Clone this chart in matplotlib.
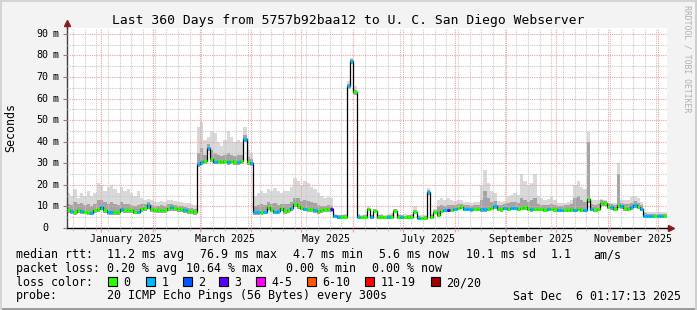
import datetime as dt
import numpy as np
import matplotlib
matplotlib.use('Agg')
import matplotlib.pyplot as plt
import matplotlib.dates as mdates
import matplotlib.transforms as mtransforms
from matplotlib.patches import Rectangle
from matplotlib.ticker import MultipleLocator, NullFormatter

W, H = 697, 310
plt.rcParams['font.family'] = 'DejaVu Sans Mono'

# --- data: one sample every 2 days, Dec 11 2024 -> Dec 6 2025 ---
start = dt.datetime(2024, 12, 11, 1, 17, 13)
end = dt.datetime(2025, 12, 6, 1, 17, 13)
step_days = 2

# median rtt (ms)
med = [8.5, 8.0, 7.5, 8.3, 8.0, 7.6, 7.3, 7.1, 8.5, 8.8,
       9.8, 8.5, 7.5, 7.2, 7.4, 7.6, 8.7, 8.5, 8.3, 8.2,
       7.6, 7.6, 8.8, 9.3, 10.6, 8.8, 8.5, 8.3, 8.3, 8.4,
       9.5, 9.6, 9.2, 8.8, 8.7, 8.5, 8.1, 8.0, 7.6, 29.5,
       30.5, 31.0, 37.0, 32.0, 30.8, 31.0, 30.8, 31.0, 30.6, 31.0,
       30.6, 30.5, 31.0, 41.5, 30.5, 30.0, 7.5, 7.3, 7.4, 7.6,
       9.6, 8.5, 7.6, 7.8, 9.2, 8.0, 8.3, 9.5, 11.0, 10.2,
       9.5, 9.0, 8.8, 8.6, 8.3, 8.0, 8.2, 8.6, 8.8, 8.7,
       5.5, 5.0, 5.0, 5.3, 66.0, 77.5, 63.0, 5.2, 4.9, 5.0,
       8.7, 5.0, 8.0, 5.0, 5.0, 4.9, 5.0, 5.0, 8.0, 5.0,
       5.0, 4.9, 5.0, 5.0, 7.5, 4.7, 4.5, 4.7, 16.5, 5.0,
       7.5, 6.0, 8.0, 8.3, 8.3, 8.5, 8.8, 9.3, 9.8, 8.8,
       8.8, 8.6, 8.8, 8.8, 8.7, 8.6, 8.8, 9.5, 10.2, 8.8,
       8.7, 9.3, 9.0, 9.3, 9.3, 9.0, 9.3, 9.7, 8.8, 8.7,
       8.8, 9.0, 8.8, 8.5, 8.8, 9.0, 8.6, 8.3, 8.3, 8.5,
       8.3, 8.6, 8.5, 8.8, 8.3, 8.5, 13.4, 8.8, 8.5, 9.0,
       11.7, 11.5, 9.8, 9.6, 9.0, 10.7, 10.0, 9.3, 9.0, 9.6,
       10.7, 9.8, 9.0, 5.7, 5.6, 5.6, 5.5, 5.6, 5.6, 5.6]

# top of the light smoke (ms)
hi = [16, 15, 18, 14, 16, 15, 17, 15, 16, 21,
      20, 17, 19, 20, 18, 16, 19, 17, 18, 16,
      15, 17, 14, 13, 13.5, 13, 12, 12, 12.5, 12,
      13, 13, 12.5, 12, 12, 11.5, 11.5, 11, 10.5, 47,
      49, 41, 42, 45, 44, 40, 38, 41, 45, 42,
      40, 41, 40, 47, 36, 35, 15, 16, 17, 16,
      18, 17, 18.5, 17, 16, 17, 17, 19, 23, 22,
      20, 22, 21, 19, 18, 16, 15, 14, 14.5, 14,
      6.5, 6.0, 6.0, 6.5, 68, 79, 66, 6.5, 6.0, 6.2,
      10, 6.2, 9.0, 6.2, 6.5, 6.2, 6.5, 7.0, 9.0, 6.5,
      6.2, 6.5, 6.2, 6.5, 10, 6.0, 5.8, 6.0, 18.5, 6.5,
      9.0, 13, 14, 13, 14, 13, 12.5, 13, 13, 12,
      12, 11.5, 12, 12, 20, 27, 21, 17, 16, 12.5,
      12, 12.5, 15, 15.5, 16, 15.5, 25, 22, 20, 21,
      25, 15, 14, 13, 13.5, 14.5, 13, 11.5, 11.5, 11.5,
      12, 13, 20, 22, 19, 18, 44.6, 13, 13, 13,
      13.5, 13, 11.5, 11.5, 11.5, 30, 13, 13, 13, 14.5,
      15, 14, 12, 7.5, 7.3, 7.3, 7.2, 7.3, 7.3, 7.3]

# top of the dark smoke (ms)
mid = [11, 10.5, 12, 11, 11.5, 10.5, 11, 10, 11, 13,
       13, 12, 11, 12, 11, 10.5, 12, 11, 11, 10.5,
       10, 10.5, 11, 11, 12, 10.5, 10, 10, 10.5, 10,
       11, 11, 10.5, 10, 10, 9.8, 9.5, 9.3, 9.0, 35,
       37, 34, 39, 36, 35, 34, 33.5, 34, 35, 34,
       33.5, 34, 34, 43, 33, 32, 10, 10.5, 11, 10.5,
       12, 11, 11.5, 10.5, 11, 11, 11, 12, 14, 14,
       12.5, 13, 12.5, 12, 11.5, 10.5, 10, 10, 10.5, 10,
       6.0, 5.8, 5.8, 6.0, 67, 78.5, 64, 6.0, 5.7, 5.8,
       9.5, 5.8, 8.7, 5.8, 5.8, 5.7, 5.8, 5.9, 8.7, 5.8,
       5.8, 5.7, 5.8, 5.8, 8.5, 5.5, 5.3, 5.5, 17.5, 5.8,
       8.3, 10, 10.5, 10, 10.5, 10.5, 10.5, 11, 11, 10.5,
       10.5, 10.3, 10.5, 10.5, 13, 17, 14, 12, 12.5, 10.5,
       10.5, 11, 11.5, 12, 12, 11.5, 14, 13, 12, 13,
       14, 11, 10.5, 10.5, 10.5, 11, 10.5, 10, 10, 10.5,
       10.5, 11, 14, 15, 13, 12, 40, 11, 10.5, 11,
       13, 12.5, 11, 11, 10.5, 25, 11.5, 11, 11, 11.5,
       12.5, 11.5, 10.5, 6.8, 6.6, 6.6, 6.5, 6.6, 6.6, 6.6]

# bottom of the smoke (ms)
lo = [7.0, 6.6, 6.2, 6.8, 6.6, 6.3, 6.0, 5.8, 7.0, 7.3,
      8.2, 7.0, 6.2, 5.9, 6.0, 6.2, 7.2, 7.0, 6.8, 6.8,
      6.3, 6.3, 7.3, 7.8, 9.0, 7.4, 7.1, 6.9, 6.9, 7.0,
      8.0, 8.1, 7.7, 7.4, 7.3, 7.1, 6.7, 6.6, 6.2, 28.5,
      29.3, 29.8, 35.5, 30.8, 29.6, 29.8, 29.6, 29.8, 29.4, 29.8,
      29.4, 29.3, 29.8, 40.0, 29.2, 28.8, 6.2, 6.0, 6.1, 6.3,
      8.2, 7.2, 6.3, 6.5, 7.8, 6.7, 7.0, 8.1, 9.6, 8.9,
      8.2, 7.7, 7.5, 7.3, 7.0, 6.7, 6.9, 7.3, 7.5, 7.4,
      4.7, 4.3, 4.3, 4.6, 64.5, 76.0, 61.5, 4.5, 4.2, 4.3,
      7.8, 4.3, 7.2, 4.3, 4.3, 4.2, 4.3, 4.3, 7.2, 4.3,
      4.3, 4.2, 4.3, 4.3, 6.7, 4.0, 3.8, 4.0, 15.5, 4.3,
      6.7, 5.0, 7.0, 7.3, 7.3, 7.5, 7.8, 8.2, 8.6, 7.7,
      7.7, 7.5, 7.7, 7.7, 7.6, 7.5, 7.7, 8.4, 9.0, 7.7,
      7.6, 8.2, 7.9, 8.2, 8.2, 7.9, 8.2, 8.5, 7.7, 7.6,
      7.7, 7.9, 7.7, 7.4, 7.7, 7.9, 7.5, 7.2, 7.2, 7.4,
      7.2, 7.5, 7.4, 7.7, 7.2, 7.4, 11.5, 7.7, 7.4, 7.9,
      10.3, 10.2, 8.6, 8.4, 7.9, 9.5, 8.8, 8.1, 7.9, 8.4,
      9.5, 8.6, 7.9, 4.9, 4.8, 4.8, 4.7, 4.8, 4.8, 4.8]

# packet loss class per sample (index into loss_labels)
loss = [0, 1, 0, 0, 1, 0, 0, 1, 0, 0,
        1, 0, 1, 1, 0, 0, 1, 0, 0, 0,
        0, 1, 0, 0, 1, 0, 0, 0, 0, 0,
        0, 1, 0, 0, 0, 1, 0, 0, 0, 1,
        1, 0, 1, 0, 1, 0, 0, 0, 1, 0,
        0, 1, 0, 1, 0, 1, 1, 1, 0, 1,
        0, 0, 1, 1, 0, 0, 0, 1, 0, 0,
        0, 1, 0, 0, 1, 0, 0, 0, 0, 3,
        1, 1, 0, 0, 1, 1, 0, 1, 0, 0,
        0, 1, 0, 0, 0, 0, 1, 0, 0, 0,
        1, 0, 0, 0, 0, 1, 0, 0, 1, 0,
        0, 0, 0, 1, 3, 0, 1, 0, 0, 1,
        1, 1, 0, 0, 1, 1, 0, 0, 1, 0,
        0, 1, 0, 1, 1, 0, 0, 0, 0, 1,
        0, 0, 0, 0, 1, 0, 0, 1, 1, 0,
        0, 0, 1, 0, 0, 1, 0, 1, 0, 0,
        0, 0, 0, 1, 0, 0, 1, 0, 0, 1,
        1, 0, 1, 1, 1, 1, 0, 1, 1, 0]

loss_labels = ['0', '1', '2', '3', '4-5', '6-10', '11-19', '20/20']
loss_colors = ['#26ff00', '#00b8ff', '#0059ff', '#5e00ff',
               '#ff00ff', '#ff5500', '#ff0000', '#a00000']

title = 'Last 360 Days from 5757b92baa12 to U. C. San Diego Webserver'
y_ticks = [0, 10, 20, 30, 40, 50, 60, 70, 80, 90]
label_months = [1, 3, 5, 7, 9, 11]

# --- figure ---
fig = plt.figure(figsize=(W / 100, H / 100), dpi=100, facecolor='#f3f3f3')

def fx(x):
    return x / W

def fy(y):
    return 1 - y / H

# frame
fig.add_artist(Rectangle((0, 0), 1, 2 / H, transform=fig.transFigure, color='#9c9c9c', lw=0))
fig.add_artist(Rectangle((0, 1 - 2 / H), 1, 2 / H, transform=fig.transFigure, color='#d4d4d4', lw=0))
fig.add_artist(Rectangle((0, 0), 2 / W, 1, transform=fig.transFigure, color='#d4d4d4', lw=0))
fig.add_artist(Rectangle((1 - 2 / W, 0), 2 / W, 1, transform=fig.transFigure, color='#cfcfcf', lw=0))

ax = fig.add_axes([fx(66.5), fy(228), 600 / W, 199.7 / H])
ax.set_facecolor('white')

edges = mdates.date2num([start + dt.timedelta(days=step_days * i) for i in range(len(med) + 1)])

def ext(a):
    return np.append(a, a[-1])

ax.fill_between(edges, ext(lo), ext(hi), step='post', color='#d9d9d9', lw=0, zorder=1)
ax.fill_between(edges, ext(lo), ext(mid), step='post', color='#a4a4a4', lw=0, zorder=1.1)
ax.step(edges, ext(med), where='post', color='black', lw=0.9, zorder=3)
ax.hlines(med, edges[:-1], edges[1:], colors=[loss_colors[k] for k in loss], lw=2.2, zorder=4)

ax.set_xlim(mdates.date2num(start), mdates.date2num(end))
ax.set_ylim(0, 92.6)

# grid
month_starts = [dt.datetime(2025, m, 1) for m in range(1, 13)]
ax.set_xticks(mdates.date2num(month_starts))
ax.xaxis.set_minor_locator(mdates.WeekdayLocator(byweekday=mdates.SU))
ax.xaxis.set_major_formatter(NullFormatter())
ax.set_yticks(y_ticks)
ax.yaxis.set_minor_locator(MultipleLocator(5))
ax.yaxis.set_major_formatter(NullFormatter())
ax.set_axisbelow(False)
ax.grid(True, which='minor', color='#c8c8c8', ls=(0, (1, 1)), lw=0.8)
ax.grid(True, which='major', color='#f0a0a0', ls=(0, (1, 1)), lw=0.8)
ax.tick_params(axis='x', which='major', length=3, color='#e89a9a', direction='out')
ax.tick_params(axis='x', which='minor', length=2, color='#bbbbbb', direction='out')
ax.tick_params(axis='y', which='major', length=3, color='#808080', direction='out')
ax.tick_params(axis='y', which='minor', length=0)

for s in ['top', 'right']:
    ax.spines[s].set_visible(False)
ax.spines['left'].set_color('#404040')
ax.spines['bottom'].set_color('black')
ax.spines['left'].set_linewidth(1)
ax.spines['bottom'].set_linewidth(1)

# axis arrows
ax.plot([0, 0], [1, 1.02], color='#404040', lw=1, transform=ax.transAxes, clip_on=False)
ax.plot([0], [1.025], marker='^', ms=4, color='#8b1a1a', transform=ax.transAxes, clip_on=False)
ax.plot([1, 1.006], [0, 0], color='black', lw=1, transform=ax.transAxes, clip_on=False)
ax.plot([1.008], [0], marker='>', ms=4, color='#8b1a1a', transform=ax.transAxes, clip_on=False)

# y tick labels
ytr = mtransforms.blended_transform_factory(fig.transFigure, ax.transData)
for v in y_ticks:
    ax.text(fx(48.5), v, str(v), transform=ytr, ha='right', va='center', fontsize=7.2)
    if v:
        ax.text(fx(53), v, 'm', transform=ytr, ha='left', va='center', fontsize=7.2)

# x labels, centred mid-month
xtr = mtransforms.blended_transform_factory(ax.transData, fig.transFigure)
for m in label_months:
    d = dt.datetime(2025, m, 16)
    ax.text(mdates.date2num(d), fy(241.5), d.strftime('%B %Y'), transform=xtr,
            ha='center', va='baseline', fontsize=7.2)

# texts
fig.text(fx(348), fy(24), title, ha='center', va='baseline', fontsize=9.4)
fig.text(fx(10.5), fy(127.5), 'Seconds', rotation=90, ha='center', va='center', fontsize=8.4)
fig.text(fx(687), fy(59), 'RRDTOOL / TOBI OETIKER', rotation=270, ha='center', va='center',
         fontsize=5.9, color='#b0b0b0')

lf = 8.4
fig.text(fx(16), fy(258), 'median rtt:', fontsize=lf, va='baseline')
for x, t in [(107, '11.2 ms avg'), (200, '76.9 ms max'), (293, '4.7 ms min'),
             (379, '5.6 ms now'), (465.5, '10.1 ms sd'), (551, '1.1'), (593, 'am/s')]:
    fig.text(fx(x), fy(258), t, fontsize=lf, va='baseline')

fig.text(fx(16), fy(272), 'packet loss:', fontsize=lf, va='baseline')
for x, t in [(107, '0.20 % avg'), (186, '10.64 % max'), (286, '0.00 % min'), (372, '0.00 % now')]:
    fig.text(fx(x), fy(272), t, fontsize=lf, va='baseline')

fig.text(fx(16), fy(286), 'loss color:', fontsize=lf, va='baseline')
box_x = [108, 146, 182.5, 219, 256, 307, 365, 431]
for bx, lab, col in zip(box_x, loss_labels, loss_colors):
    fig.add_artist(Rectangle((fx(bx), fy(285.5)), 9 / W, 9 / H, transform=fig.transFigure,
                             facecolor=col, edgecolor='black', lw=0.8))
    fig.text(fx(bx + 15.5), fy(286), lab, fontsize=lf, va='baseline')

fig.text(fx(16), fy(299.5), 'probe:', fontsize=lf, va='baseline')
fig.text(fx(107), fy(299.5), '20 ICMP Echo Pings (56 Bytes) every 300s', fontsize=lf, va='baseline')
fig.text(fx(681), fy(299.5), 'Sat Dec  6 01:17:13 2025', fontsize=lf, va='baseline', ha='right')

fig.savefig('out.png', dpi=100, facecolor=fig.get_facecolor())
